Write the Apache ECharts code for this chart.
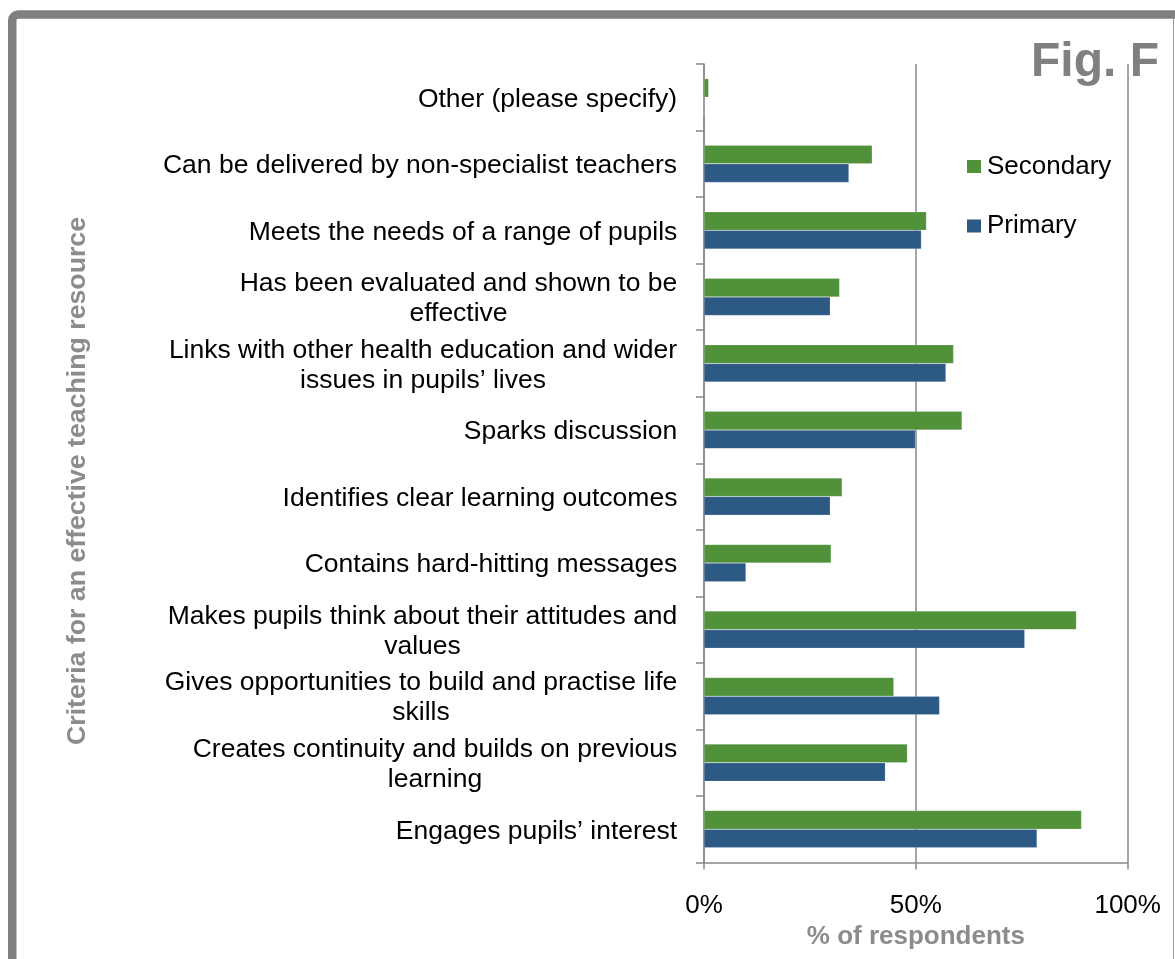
<!DOCTYPE html>
<html>
<head>
<meta charset="utf-8">
<script src="https://cdn.jsdelivr.net/npm/echarts@6/dist/echarts.min.js"></script>
<style>
html,body{margin:0;padding:0;background:#fff;}
#chart{width:1175px;height:959px;}
</style>
</head>
<body>
<div id="chart"></div>
<script>
const categories = [
  "Other (please specify)",
  "Can be delivered by non-specialist teachers",
  "Meets the needs of a range of pupils",
  "Has been evaluated and shown to be\neffective",
  "Links with other health education and wider\nissues in pupils’ lives",
  "Sparks discussion",
  "Identifies clear learning outcomes",
  "Contains hard-hitting messages",
  "Makes pupils think about their attitudes and\nvalues",
  "Gives opportunities to build and practise life\nskills",
  "Creates continuity and builds on previous\nlearning",
  "Engages pupils’ interest"
];
const secondary = [1.1, 39.7, 52.5, 32.0, 58.9, 60.9, 32.6, 30.0, 87.9, 44.8, 48.0, 89.1];
const primary   = [0, 34.2, 51.3, 29.8, 57.1, 49.9, 29.8, 9.9, 75.7, 55.6, 42.8, 78.6];
const xTicks = [0, 50, 100];

const FONT = '"Liberation Sans", Arial, sans-serif';
const LABEL_SIZE = 26.5;
const ctx = document.createElement('canvas').getContext('2d');
ctx.font = LABEL_SIZE + 'px ' + FONT;
const rich = {};
categories.forEach((c, i) => {
  const w = Math.max(...c.split('\n').map(l => ctx.measureText(l).width));
  rich['c' + i] = {width: Math.ceil(w) + 1, align: 'center', fontSize: LABEL_SIZE, fontFamily: FONT,
                   color: '#000', lineHeight: 30, padding: [4, 0, 0, 0]};
});

const chart = echarts.init(document.getElementById('chart'), null, {renderer: 'canvas'});
chart.setOption({
  animation: false,
  backgroundColor: '#fff',
  grid: {left: 704, right: 47.3, top: 64, bottom: 96.5, containLabel: false},
  legend: {
    data: [
      {name: 'Secondary', icon: 'rect', itemStyle: {color: '#50913A', borderWidth: 0}},
      {name: 'Primary', icon: 'rect', itemStyle: {color: '#2D5985', borderWidth: 0}}
    ],
    orient: 'vertical',
    left: 967, top: 153.5, padding: 0,
    itemWidth: 14, itemHeight: 13, itemGap: 33.5,
    textStyle: {fontSize: 26, fontFamily: FONT, color: '#000', lineHeight: 26, padding: [0, 0, 0, 1]}
  },
  xAxis: {
    type: 'value', min: xTicks[0], max: xTicks[xTicks.length - 1], interval: 50,
    axisLine: {show: true, lineStyle: {color: '#888', width: 1.5}},
    axisTick: {show: true, length: 7, lineStyle: {color: '#888', width: 1.5}},
    axisLabel: {formatter: '{value}%', fontSize: 26, fontFamily: FONT, color: '#000', margin: 30},
    splitLine: {show: true, lineStyle: {color: '#888', width: 1.5}},
    name: '% of respondents', nameLocation: 'middle', nameGap: 47,
    nameTextStyle: {fontSize: 26, fontWeight: 'bold', fontFamily: FONT, color: '#8c8c8c'}
  },
  yAxis: {
    type: 'category', data: categories, inverse: true,
    axisLine: {show: true, lineStyle: {color: '#888', width: 1.5}},
    axisTick: {show: true, length: 8, lineStyle: {color: '#888', width: 1.5}},
    axisLabel: {
      margin: 26,
      formatter: (v, idx) => v.split('\n').map(l => '{c' + idx + '|' + l + '}').join('\n'),
      rich: rich
    },
    splitLine: {show: false}
  },
  series: [
    {name: 'Secondary', type: 'bar', data: secondary, barGap: '0%', barCategoryGap: '44%',
     itemStyle: {color: '#50913A', borderColor: 'rgba(255,255,255,0.35)', borderWidth: 0.5}},
    {name: 'Primary', type: 'bar', data: primary, barGap: '0%', barCategoryGap: '44%',
     itemStyle: {color: '#2D5985', borderColor: 'rgba(255,255,255,0.35)', borderWidth: 0.5}}
  ],
  graphic: [
    {type: 'rect', silent: true, z: 100,
     shape: {x: 12.25, y: 14.5, width: 1250, height: 1100, r: 6},
     style: {fill: 'none', stroke: '#808080', lineWidth: 8.5}},
    {type: 'line', silent: true, z: 100,
     shape: {x1: 1173.5, y1: 19, x2: 1173.5, y2: 959},
     style: {stroke: '#9a9a9a', lineWidth: 1}},
    {type: 'text', silent: true, z: 100, x: 1031, y: 62.5,
     style: {text: 'Fig. F', font: 'bold 48px ' + FONT, fill: '#808080', align: 'left', verticalAlign: 'middle'}},
    {type: 'text', silent: true, z: 100, x: 78, y: 481, rotation: Math.PI / 2,
     style: {text: 'Criteria for an effective teaching resource', font: 'bold 26.7px ' + FONT, fill: '#8c8c8c', align: 'center', verticalAlign: 'middle'}}
  ]
});
</script>
</body>
</html>
